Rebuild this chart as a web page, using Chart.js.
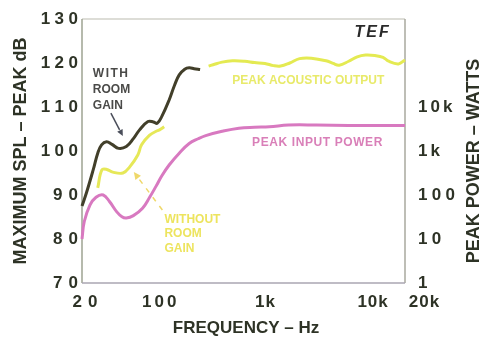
<!DOCTYPE html>
<html>
<head>
<meta charset="utf-8">
<script src="https://cdn.jsdelivr.net/npm/chart.js@4/dist/chart.umd.min.js"></script>
<style>
html, body { margin:0; padding:0; background:#fff; }
</style>
</head>
<body>
<canvas id="canvas" width="486" height="341"></canvas>
<script>
// with room gain (dB)
var freqWith = [20, 22, 25.4, 28, 30.4, 33.8, 38, 43.8, 51.6, 60, 68.5, 82, 92, 100, 110, 129, 145, 160, 180, 198, 220, 250];
var splWith  = [87.5, 90.5, 95.7, 99.5, 101.4, 102.1, 101.5, 100.6, 101, 102.8, 104.8, 106.7, 106.6, 106.3, 107.8, 111.6, 115, 117.3, 118.6, 118.9, 118.7, 118.5];

// without room gain (dB)
var freqWithout = [28, 30.6, 34, 38.6, 48, 55.5, 66, 71.5, 85, 100, 105, 116];
var splWithout  = [91.6, 95.7, 95.8, 95.2, 95, 96.4, 99.1, 101.4, 103.6, 104.6, 104.8, 105.5];

// peak acoustic output (dB)
var freqOutput = [300, 330, 400, 500, 650, 800, 1000, 1200, 1400, 1700, 2100, 2700, 3700, 4300, 4900, 6000, 7200, 8600, 10500, 12500, 14100, 17400, 20000];
var splOutput  = [119.3, 119.6, 120.2, 120.5, 120.4, 120.1, 119.9, 119.4, 119.3, 120, 121, 121.1, 120.5, 119.9, 119.5, 120.4, 121.4, 121.8, 121.7, 121.3, 120.4, 119.8, 120.7];

// peak input power (watts)
var freqPower = [20, 21, 23.7, 27, 31.5, 36, 41.9, 47, 51.6, 60, 73, 85, 97, 110, 129, 160, 198, 240, 282, 400, 573, 800, 1100, 1650, 3000, 6000, 10000, 20000];
var wattPower = [10, 25, 59, 89, 100, 71, 42, 32, 30, 34, 50, 89, 155, 270, 480, 890, 1480, 1900, 2240, 2800, 3300, 3470, 3550, 3900, 3900, 3800, 3800, 3800];

var xTicks = [20, 100, 1000, 10000, 20000];
var xTickLabels = ['20', '100', '1k', '10k', '20k'];
var yTicks = [70, 80, 90, 100, 110, 120, 130];
var yTickLabels = ['70', '80', '90', '100', '110', '120', '130'];
var wTicks = [1, 10, 100, 1000, 10000];
var wTickLabels = ['1', '10', '100', '1k', '10k'];

function pairs(xs, ys) {
	var out = [];
	for (var i = 0; i < xs.length; i++) out.push({x: xs[i], y: ys[i]});
	return out;
}

var FONT = '"Liberation Sans", Arial, sans-serif';
var INK = '#2e3326';

// letters drawn one by one, the scan has wide spacing
function drawSpaced(ctx, txt, x, y, align, gap) {
	var w = 0, i;
	for (i = 0; i < txt.length; i++) w += ctx.measureText(txt[i]).width;
	w += gap * (txt.length - 1);
	var pos = x;
	if (align == 'right') pos = x - w;
	else if (align == 'center') pos = x - w / 2;
	ctx.textAlign = 'left';
	for (i = 0; i < txt.length; i++) {
		ctx.fillText(txt[i], pos, y);
		pos += ctx.measureText(txt[i]).width + gap;
	}
}

function arrow(ctx, x1, y1, x2, y2, color, dashed, size) {
	ctx.save();
	ctx.strokeStyle = color;
	ctx.fillStyle = color;
	ctx.lineWidth = 1.5;
	if (dashed) ctx.setLineDash([5, 6]);
	var a = Math.atan2(y2 - y1, x2 - x1);
	ctx.beginPath();
	ctx.moveTo(x1, y1);
	ctx.lineTo(x2 - Math.cos(a) * size, y2 - Math.sin(a) * size);
	ctx.stroke();
	ctx.setLineDash([]);
	ctx.beginPath();
	ctx.moveTo(x2, y2);
	ctx.lineTo(x2 - Math.cos(a - 0.45) * size, y2 - Math.sin(a - 0.45) * size);
	ctx.lineTo(x2 - Math.cos(a + 0.45) * size, y2 - Math.sin(a + 0.45) * size);
	ctx.closePath();
	ctx.fill();
	ctx.restore();
}

var decor = {
	id: 'decor',
	beforeDatasetsDraw: function(chart) {
		var ctx = chart.ctx, a = chart.chartArea;
		ctx.save();
		ctx.lineWidth = 1.5;
		ctx.strokeStyle = '#d2d2ca';
		ctx.beginPath(); ctx.moveTo(a.left, a.top); ctx.lineTo(a.right, a.top); ctx.stroke();
		ctx.strokeStyle = '#a8a89e';
		ctx.beginPath(); ctx.moveTo(a.right, a.top); ctx.lineTo(a.right, a.bottom); ctx.stroke();
		ctx.strokeStyle = '#9ea392';
		ctx.beginPath(); ctx.moveTo(a.left, a.top); ctx.lineTo(a.left, a.bottom); ctx.stroke();
		ctx.strokeStyle = '#aaa6b2';
		ctx.beginPath(); ctx.moveTo(a.left, a.bottom); ctx.lineTo(a.right, a.bottom); ctx.stroke();
		ctx.restore();
	},
	afterDraw: function(chart) {
		var ctx = chart.ctx, a = chart.chartArea;
		var sx = chart.scales.x, sy = chart.scales.y, sw = chart.scales.y2;
		var i;
		ctx.save();
		ctx.fillStyle = INK;
		ctx.textBaseline = 'middle';

		// left ticks
		ctx.font = 'bold 17px ' + FONT;
		for (i = 0; i < yTicks.length; i++) {
			drawSpaced(ctx, yTickLabels[i], a.left - 4, sy.getPixelForValue(yTicks[i]), 'right', yTickLabels[i].length == 2 ? 6 : 4.5);
		}
		// right ticks
		for (i = 0; i < wTicks.length; i++) {
			var t = wTickLabels[i];
			drawSpaced(ctx, t, a.right + 13, sw.getPixelForValue(wTicks[i]), 'left', t.indexOf('k') >= 0 ? 3 : 4.3);
		}
		// bottom ticks
		for (i = 0; i < xTicks.length; i++) {
			var lab = xTickLabels[i];
			var px = sx.getPixelForValue(xTicks[i]);
			if (i == xTicks.length - 1) px += 19;
			if (i == 0) px += 3;
			if (i == 1) px += 2;
			drawSpaced(ctx, lab, px, a.bottom + 19, 'center', lab.indexOf('k') >= 0 ? 1 : (lab.length == 2 ? 6 : 3));
		}

		// axis titles
		ctx.font = 'bold 17px ' + FONT;
		ctx.textAlign = 'center';
		ctx.fillText('FREQUENCY \u2013 Hz', 246, a.bottom + 45);
		ctx.font = 'bold 18px ' + FONT;
		ctx.save();
		ctx.translate(21, (a.top + a.bottom) / 2);
		ctx.rotate(-Math.PI / 2);
		ctx.fillText('MAXIMUM SPL \u2013 PEAK dB', 0, 0);
		ctx.restore();
		ctx.save();
		ctx.translate(474, 161);
		ctx.rotate(-Math.PI / 2);
		ctx.fillText('PEAK POWER \u2013 WATTS', 0, 0);
		ctx.restore();

		// TEF
		ctx.font = 'italic bold 16px ' + FONT;
		ctx.fillStyle = '#2a2a2a';
		drawSpaced(ctx, 'TEF', sx.getPixelForValue(14100), sy.getPixelForValue(126.8), 'right', 2);

		// curve labels
		ctx.font = 'bold 12px ' + FONT;
		ctx.fillStyle = '#4a4a48';
		var xl = sx.getPixelForValue(25.2);
		drawSpaced(ctx, 'WITH', xl, sy.getPixelForValue(117.5), 'left', 1.5);
		drawSpaced(ctx, 'ROOM', xl, sy.getPixelForValue(113.9), 'left', 0);
		drawSpaced(ctx, 'GAIN', xl, sy.getPixelForValue(110.2), 'left', 0);
		arrow(ctx, sx.getPixelForValue(37.1), sy.getPixelForValue(108.6), sx.getPixelForValue(47.9), sy.getPixelForValue(103.4), '#4a4e5a', false, 7);

		ctx.fillStyle = '#ede45e';
		xl = sx.getPixelForValue(116.6);
		drawSpaced(ctx, 'WITHOUT', xl, sy.getPixelForValue(84.5), 'left', 0);
		drawSpaced(ctx, 'ROOM', xl, sy.getPixelForValue(81.1), 'left', 0);
		drawSpaced(ctx, 'GAIN', xl, sy.getPixelForValue(77.7), 'left', 0);
		arrow(ctx, sx.getPixelForValue(111.6), sy.getPixelForValue(86.6), sx.getPixelForValue(60.6), sy.getPixelForValue(95.2), '#efd86a', true, 8);

		ctx.fillStyle = '#e8ea6a';
		drawSpaced(ctx, 'PEAK ACOUSTIC OUTPUT', sx.getPixelForValue(497), sy.getPixelForValue(115.9), 'left', 0);
		ctx.fillStyle = '#d97fb8';
		drawSpaced(ctx, 'PEAK INPUT POWER', sx.getPixelForValue(759), sy.getPixelForValue(102), 'left', 0.6);
		ctx.restore();
	}
};

var line = {
	borderWidth: 3,
	pointRadius: 0,
	tension: 0.4,
	fill: false,
	clip: false
};

var config = {
	type: 'line',
	data: {
		datasets: [
			Object.assign({label: 'With room gain', data: pairs(freqWith, splWith), borderColor: '#423f2a', yAxisID: 'y'}, line),
			Object.assign({label: 'Without room gain', data: pairs(freqWithout, splWithout), borderColor: '#e6e858', yAxisID: 'y'}, line),
			Object.assign({label: 'Peak acoustic output', data: pairs(freqOutput, splOutput), borderColor: '#e4ea52', yAxisID: 'y'}, line),
			Object.assign({label: 'Peak input power', data: pairs(freqPower, wattPower), borderColor: '#d879c0', yAxisID: 'y2'}, line)
		]
	},
	options: {
		responsive: false,
		animation: false,
		layout: { padding: { left: 82, right: 81, top: 19, bottom: 58 } },
		plugins: { legend: { display: false }, tooltip: { enabled: false } },
		scales: {
			x: { type: 'logarithmic', min: 20, max: 20000, display: false },
			y: { type: 'linear', min: 70, max: 130, display: false },
			y2: { type: 'logarithmic', min: 1, max: 1000000, display: false, position: 'right' }
		}
	},
	plugins: [decor]
};

window.onload = function() {
	window.myChart = new Chart(document.getElementById('canvas'), config);
};
</script>
</body>
</html>
